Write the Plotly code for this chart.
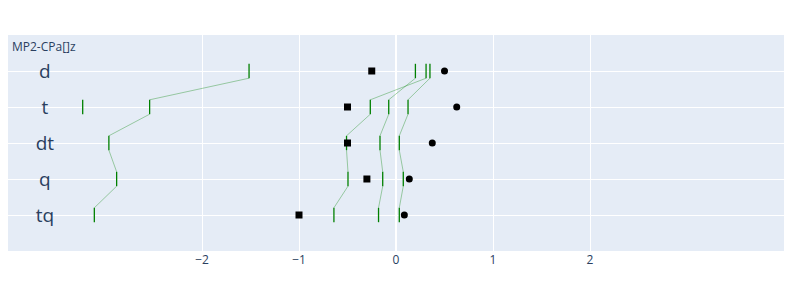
import plotly.graph_objects as go

categories = ["d", "t", "dt", "q", "tq"]
series_1 = [-1.515, -2.54, -2.96, -2.88, -3.11]
series_2 = [0.31, -0.265, -0.51, -0.495, -0.64]
series_3 = [0.20, -0.075, -0.165, -0.137, -0.18]
series_4 = [0.35, 0.124, 0.034, 0.075, 0.034]
extra_cat = ["t"]
extra_val = [-3.23]
squares = [-0.25, -0.50, -0.50, -0.30, -1.00]
circles = [0.50, 0.626, 0.374, 0.137, 0.086]
x_ticks = [-2, -1, 0, 1, 2]
title_text = "MP2-CPa[]z"

H = 0.2
idx = {c: i for i, c in enumerate(categories)}

fig = go.Figure()

# connectors
for s in [series_1, series_2, series_3, series_4]:
    xs, ys = [], []
    for i in range(len(s) - 1):
        xs += [s[i], s[i + 1], None]
        ys += [i + H, i + 1 - H, None]
    fig.add_trace(go.Scatter(x=xs, y=ys, mode="lines",
                             line=dict(color="rgba(0,128,0,0.35)", width=1),
                             hoverinfo="skip", showlegend=False))

# level ticks
tx, ty = [], []
for s in [series_1, series_2, series_3, series_4]:
    for i, v in enumerate(s):
        tx += [v, v, None]
        ty += [i - H, i + H, None]
for c, v in zip(extra_cat, extra_val):
    tx += [v, v, None]
    ty += [idx[c] - H, idx[c] + H, None]
fig.add_trace(go.Scatter(x=tx, y=ty, mode="lines",
                         line=dict(color="green", width=1.3),
                         showlegend=False))

fig.add_trace(go.Scatter(x=squares, y=list(range(len(categories))), mode="markers",
                         marker=dict(symbol="square", color="black", size=7),
                         showlegend=False))
fig.add_trace(go.Scatter(x=circles, y=list(range(len(categories))), mode="markers",
                         marker=dict(symbol="circle", color="black", size=7),
                         showlegend=False))

# category labels
fig.add_trace(go.Scatter(x=[-3.62] * len(categories),
                         y=[i + 0.05 for i in range(len(categories))],
                         mode="text", text=categories,
                         textfont=dict(size=19, color="#2a3f5f"),
                         textposition="middle center", showlegend=False,
                         hoverinfo="skip"))

fig.add_annotation(text=title_text, xref="paper", yref="paper", x=0, y=1,
                   xanchor="left", yanchor="top", showarrow=False, xshift=2, yshift=-1,
                   font=dict(size=12, color="#2a3f5f"))

fig.update_layout(
    width=792, height=288,
    margin=dict(l=8, r=8, t=35, b=37),
    template="plotly",
    font=dict(family="Open Sans"),
    showlegend=False,
)
fig.update_xaxes(range=[-4, 4], tickvals=x_ticks, zeroline=True, zerolinewidth=2,
                 zerolinecolor="white")
fig.update_yaxes(range=[5, -1], tickvals=list(range(len(categories))),
                 showticklabels=False, zeroline=False)

fig.write_html("out.html")
